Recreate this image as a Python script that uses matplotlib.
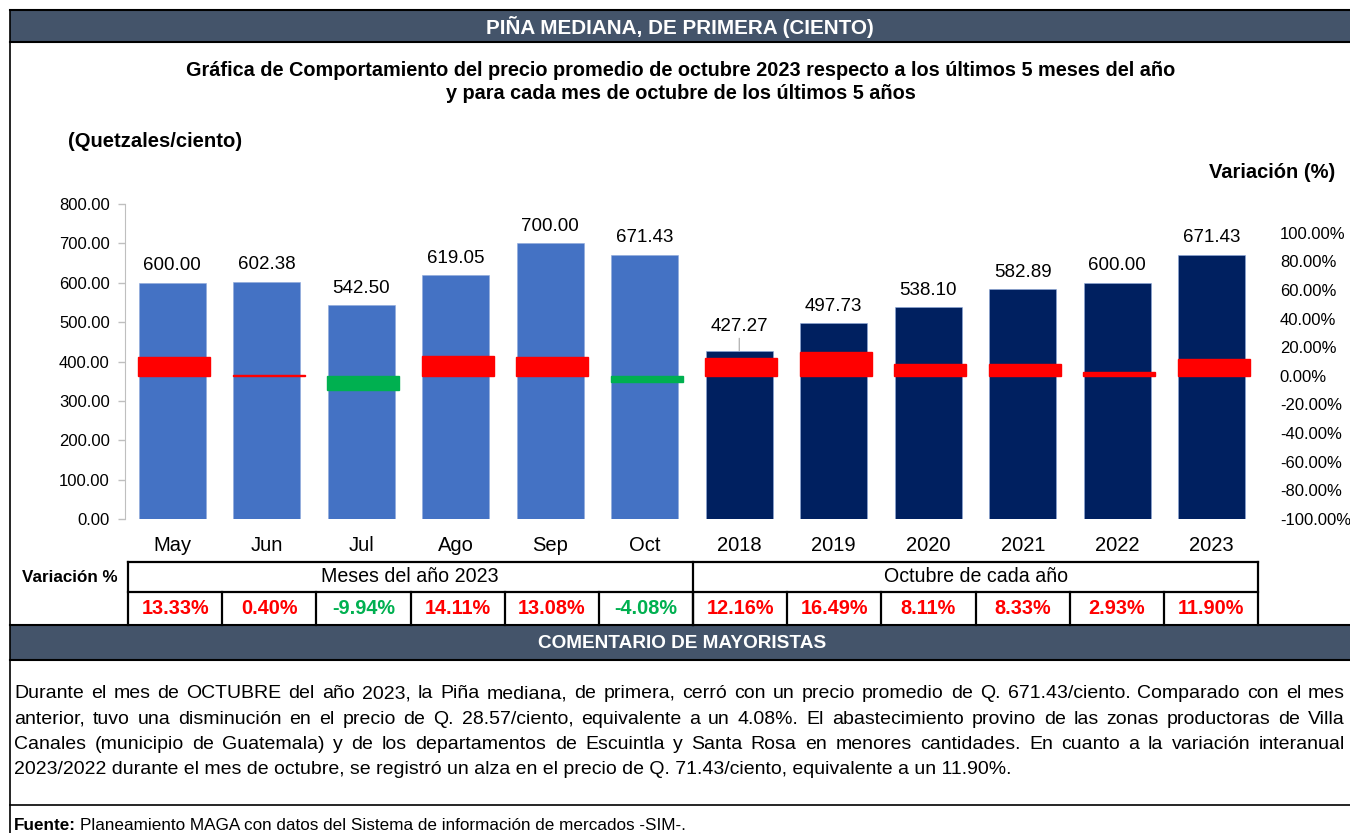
import matplotlib
matplotlib.use("Agg")
import matplotlib.pyplot as plt
from matplotlib import font_manager
from matplotlib.patches import Rectangle
import numpy as np

# ---------------- data ----------------
months = ["May", "Jun", "Jul", "Ago", "Sep", "Oct"]
month_prices = [600.00, 602.38, 542.50, 619.05, 700.00, 671.43]
month_var = [13.33, 0.40, -9.94, 14.11, 13.08, -4.08]

years = ["2018", "2019", "2020", "2021", "2022", "2023"]
year_prices = [427.27, 497.73, 538.10, 582.89, 600.00, 671.43]
year_var = [12.16, 16.49, 8.11, 8.33, 2.93, 11.90]

left_ticks = [0, 100, 200, 300, 400, 500, 600, 700, 800]
right_ticks = [-100, -80, -60, -40, -20, 0, 20, 40, 60, 80, 100]

header_title = "PIÑA MEDIANA, DE PRIMERA (CIENTO)"
chart_title = ["Gráfica de Comportamiento del precio promedio de octubre 2023 respecto a los últimos 5 meses del año",
               "y para cada mes de octubre de los últimos 5 años"]
group_labels = ["Meses del año 2023", "Octubre de cada año"]
paragraph = [
    "Durante el mes de OCTUBRE del año 2023, la Piña mediana, de primera, cerró con un precio promedio de Q. 671.43/ciento. Comparado con el mes",
    "anterior, tuvo una disminución en el precio de Q. 28.57/ciento, equivalente a un 4.08%. El abastecimiento provino de las zonas productoras de Villa",
    "Canales (municipio de Guatemala) y de los departamentos de Escuintla y Santa Rosa en menores cantidades. En cuanto a la variación interanual",
    "2023/2022 durante el mes de octubre, se registró un alza en el precio de Q. 71.43/ciento, equivalente a un 11.90%.",
]

# ---------------- fonts ----------------
def has_font(name):
    try:
        font_manager.findfont(name, fallback_to_default=False)
        return True
    except Exception:
        return False

FAM = ["Liberation Sans Narrow", "Liberation Sans", "DejaVu Sans"] if has_font("Liberation Sans Narrow") \
    else ["Liberation Sans", "DejaVu Sans"]
plt.rcParams["font.family"] = FAM

W, H = 1350, 833
fig = plt.figure(figsize=(W / 100, H / 100), dpi=100)
renderer = fig.canvas.get_renderer()

# overlay in pixel coords
ov = fig.add_axes([0, 0, 1, 1])
ov.set_xlim(0, W)
ov.set_ylim(H, 0)
ov.axis("off")

DARK = "#44546A"
BLUE = "#4472C4"
NAVY = "#002060"
RED = "#FF0000"
GREEN = "#00B050"


def fit(t, target_w):
    t.set_fontsize(10)
    w = t.get_window_extent(renderer).width
    t.set_fontsize(10 * target_w / w)
    return t


# header bands
for (y0, y1) in [(10, 42), (625, 660)]:
    ov.add_patch(Rectangle((10, y0), W - 10, y1 - y0, facecolor=DARK, edgecolor="none"))
    ov.plot([10, W], [y0, y0], color="black", lw=1.5)
    ov.plot([10, W], [y1, y1], color="black", lw=1.5)
ov.plot([10, 10], [10, H], color="black", lw=1.2)
ov.plot([10, W], [805, 805], color="black", lw=1.2)

fit(ov.text(680, 27, header_title, color="white", fontweight="bold", ha="center", va="center"), 385)
fit(ov.text(682, 643, "COMENTARIO DE MAYORISTAS", color="white", fontweight="bold",
            ha="center", va="center"), 288)

fit(ov.text(681, 70, chart_title[0], fontweight="bold", ha="center", va="center"), 987)
t2 = ov.text(681, 93, chart_title[1], fontweight="bold", ha="center", va="center")
t2.set_fontsize(ov.texts[-2].get_fontsize())

fit(ov.text(68, 141, "(Quetzales/ciento)", fontweight="bold", ha="left", va="center"), 174)
fit(ov.text(1335, 172, "Variación (%)", fontweight="bold", ha="right", va="center"), 126)

# ---------------- table ----------------
bounds = np.linspace(128, 1258, 13)
lw_t = 1.6
ov.plot([128, 1258], [562, 562], color="black", lw=lw_t)
ov.plot([128, 1258], [592, 592], color="black", lw=lw_t)
for xb in [128, 693, 1258]:
    ov.plot([xb, xb], [562, 625], color="black", lw=lw_t)
for xb in bounds[1:-1]:
    ov.plot([xb, xb], [592, 625], color="black", lw=lw_t)

fit(ov.text(70, 577, "Variación %", fontweight="bold", ha="center", va="center"), 95)
fit(ov.text(410, 577, group_labels[0], ha="center", va="center"), 177)
t = ov.text(976, 577, group_labels[1], ha="center", va="center")
t.set_fontsize(ov.texts[-2].get_fontsize())

all_var = month_var + year_var
vfs = None
for i, v in enumerate(all_var):
    cx = (bounds[i] + bounds[i + 1]) / 2
    tt = ov.text(cx, 609, f"{v:.2f}%", fontweight="bold", ha="center", va="center",
                 color=RED if v >= 0 else GREEN)
    if vfs is None:
        fit(tt, 68)
        vfs = tt.get_fontsize()
    else:
        tt.set_fontsize(vfs)

# ---------------- paragraph (justified) ----------------
probe = ov.text(0, 0, paragraph[-1], ha="left")
fit(probe, 996)
pfs = probe.get_fontsize()
probe.remove()
x0, x1 = 14, 1345
for li, line in enumerate(paragraph):
    y = 694 + li * 25.3
    words = line.split(" ")
    if li == len(paragraph) - 1:
        ov.text(x0, y, line, fontsize=pfs, ha="left", va="center")
        continue
    widths = []
    for wd in words:
        tt = ov.text(0, 0, wd, fontsize=pfs)
        widths.append(tt.get_window_extent(renderer).width)
        tt.remove()
    gap = (x1 - x0 - sum(widths)) / (len(words) - 1)
    xx = x0
    for wd, ww in zip(words, widths):
        ov.text(xx, y, wd, fontsize=pfs, ha="left", va="center")
        xx += ww + gap

ft = ov.text(14, 825, "Fuente:", fontweight="bold", ha="left", va="center")
fit(ft, 62)
ffs = ft.get_fontsize()
fw = ft.get_window_extent(renderer).width
ov.text(14 + fw + 4, 825, "Planeamiento MAGA con datos del Sistema de información de mercados -SIM-.",
        fontsize=ffs, ha="left", va="center")

# ---------------- chart ----------------
ax_l, ax_r, ax_t, ax_b = 125, 1259, 204, 519
ax = fig.add_axes([ax_l / W, 1 - ax_b / H, (ax_r - ax_l) / W, (ax_b - ax_t) / H])
ax.patch.set_alpha(0)
cats = months + years
prices = month_prices + year_prices
x = np.arange(len(cats))
colors = [BLUE] * len(months) + [NAVY] * len(years)
bars = ax.bar(x, prices, width=0.71, color=colors, edgecolor="#8EA9DB", linewidth=0.4, zorder=2)
ax.set_xlim(-0.5, len(cats) - 0.5)
ax.set_ylim(0, 800)
ax.set_yticks(left_ticks)
ax.set_yticklabels([f"{v:.2f}" for v in left_ticks], fontsize=12)
ax.set_xticks(x)
ax.set_xticklabels(cats, fontsize=14.5)
ax.tick_params(axis="x", length=0, pad=12)
ax.tick_params(axis="y", length=5, color="#BFBFBF", width=1, pad=6)
for s in ["top", "right", "bottom"]:
    ax.spines[s].set_visible(False)
ax.spines["left"].set_color("#BFBFBF")

for i, (xi, p) in enumerate(zip(x, prices)):
    if i == len(months):  # 2018 label displaced with leader line
        ax.annotate(f"{p:.2f}", xy=(xi, p), xytext=(0, 11), textcoords="offset points",
                    ha="center", va="bottom", fontsize=13.5,
                    arrowprops=dict(arrowstyle="-", color="#A6A6A6", lw=0.8, shrinkA=0, shrinkB=0))
    else:
        ax.annotate(f"{p:.2f}", xy=(xi, p), xytext=(0, 6), textcoords="offset points",
                    ha="center", va="bottom", fontsize=13.5)

ax2 = ax.twinx()
ax2.set_ylim(-100, 120)
vcol = [RED if v >= 0 else GREEN for v in all_var]
ax2.bar(x + 0.02, all_var, width=0.76, color=vcol, edgecolor=vcol, linewidth=1.0, zorder=3)
ax2.set_yticks(right_ticks)
ax2.set_yticklabels([f"{v:.2f}%" for v in right_ticks], fontsize=12)
ax2.tick_params(axis="y", length=0, pad=15)
for s in ax2.spines.values():
    s.set_visible(False)

fig.savefig("out.png", dpi=100)
